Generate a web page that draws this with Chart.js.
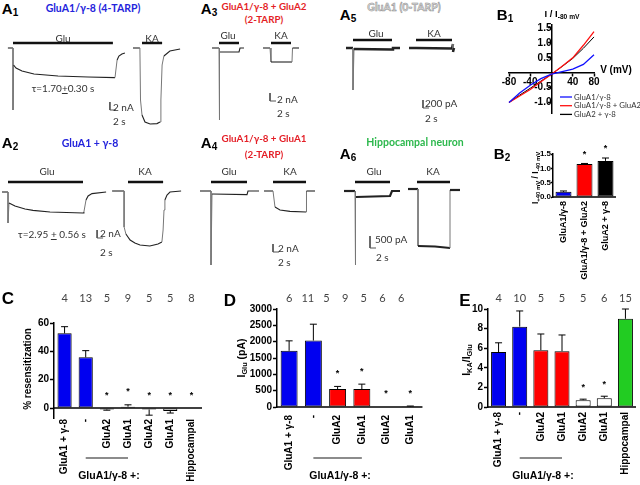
<!DOCTYPE html>
<html>
<head>
<meta charset="utf-8">
<script src="https://cdn.jsdelivr.net/npm/chart.js@4.4.1/dist/chart.umd.min.js"></script>
<style>
body { margin: 0; background: #fff; }
#fig { position: relative; width: 640px; height: 485px; overflow: hidden; font-family: Lato, "Liberation Sans", sans-serif; }
#fig canvas { position: absolute; }
.t { position: absolute; white-space: nowrap; line-height: 1; transform: translate(-50%, -50%); }
.l { position: absolute; white-space: nowrap; line-height: 1; transform: translateY(-50%); }
.pl { font: bold 15px "Liberation Sans", Arial, sans-serif; }
.pl sub { font-size: 10px; vertical-align: -2px; }
.big { font: bold 17px "Liberation Sans", Arial, sans-serif; }
.ti { font-weight: bold; font-size: 10.5px; }
.ts { font-weight: bold; font-size: 9.8px; }
.lb { font-size: 10px; color: #333; }
</style>
</head>
<body>
<div id="fig"></div>
<script>
// ---------- A panels: traces (time in s, current in nA; A5/A6 in pA) ----------
var a1GluT = [-1.7, 0, 0, 0.2, 1, 3, 7, 15, 25, 34, 34.3, 34.7, 35.3, 36.3, 37.3];
var a1GluI = [0, 0, -15.5, -4.25, -5, -5.75, -6.5, -7, -7.25, -7.4, -5.5, -3, -2, -1.5, -1.25];
var a1KaT = [40, 42.3, 42.5, 43, 44, 45.7, 48, 49, 49.3, 49.7, 50.3, 52.3, 55.7];
var a1KaI = [0, 0, -13, -16.75, -18.5, -19, -18.9, -18.5, -13, -4.25, -2, -0.75, -0.25];
var a1Glu = [0, 33.3], a1Ka = [43, 49.7], a1Level = 1.25, a1Scale = [32.3, -13.5];

var a2GluT = [-2, 0, 0, 0.33, 2.33, 5.67, 8.33, 14, 25, 25.3, 26, 26.7, 28, 32.7];
var a2GluI = [0, 0, -7.75, -2.75, -3.5, -4.25, -4.6, -5, -5.25, -5, -2, -1, -0.4, 0];
var a2KaT = [34.7, 38.7, 38.7, 39.3, 40.7, 42.3, 44, 47.3, 50, 51.3, 51.7, 52, 52.3, 53, 54, 57.7];
var a2KaI = [0.25, 0.25, -8.75, -10.5, -12, -12.75, -13.25, -13.5, -13, -12.5, -9.5, -4.5, -2, -0.75, 0, 0.25];
var a2Glu = [0, 25], a2Ka = [40, 51.7], a2Level = 2.5, a2Scale = [29.7, -9.5];

var a3GluT = [-2.33, 0, 0, 0.33, 6.67, 7, 8.33];
var a3GluI = [0, 0, -18, -1, -1, 0, 0];
var a3KaT = [14.67, 17, 17.33, 24.33, 24.5, 26.67];
var a3KaI = [0, 0, -3.5, -3.5, 0, 0];
var a3Glu = [0, 6.67], a3Ka = [17.33, 24], a3Level = 1.25, a3Scale = [17, -11.25];

var a4GluT = [-3.67, 0, 0, 0.33, 12, 12.33, 16];
var a4GluI = [0, 0, -18.5, -0.75, -0.9, 0, 0];
var a4KaT = [17.67, 20.67, 21.33, 23, 26.33, 31.67, 31.83, 34.67];
var a4KaI = [0, 0, -4, -4.75, -5.1, -5.25, 0, 0];
var a4Glu = [0, 12], a4Ka = [20.67, 31.67], a4Level = 2.25, a4Scale = [20.67, -13.25];

var a5GluT = [-2.33, 0, 0, 0.33, 13, 13.33, 15.67];
var a5GluI = [0, 0, -1050, -25, -37, 0, 0];
var a5KaT = [18.67, 21, 33, 33.33, 33.33, 33.67];
var a5KaI = [0, 0, -12, 100, -100, 0];
var a5Glu = [0, 13], a5Ka = [21, 33], a5Level = 200, a5Scale = [23.33, -1300];

var a6GluT = [-3.67, 0, 0, 0.33, 11.67, 12.33, 15];
var a6GluI = [0, 0, -3083, -250, -208, 0, 0];
var a6KaT = [17.67, 21, 21, 26.67, 31.67, 31.67, 35];
var a6KaI = [83, 83, -2292, -2313, -2375, 42, 42];
var a6Glu = [0, 11.67], a6Ka = [20.67, 31.67], a6Level = 375, a6Scale = [5, -1875];

// ---------- B1: normalised I-V ----------
var b1V = [-80, -60, -40, -20, 0, 20, 40, 60, 80];
var b1Blue = [-1.0, -0.68, -0.42, -0.2, -0.05, 0.04, 0.12, 0.28, 0.6];
var b1Red = [-1.0, -0.78, -0.56, -0.3, -0.05, 0.22, 0.5, 0.92, 1.38];
var b1Black = [-1.0, -0.75, -0.52, -0.28, -0.05, 0.21, 0.48, 0.82, 1.2];
var b1Names = ['GluA1/γ-8', 'GluA1/γ-8 + GluA2', 'GluA2 + γ-8'];
var b1XTicks = [-80, -40, 0, 40, 80];
var b1YTicks = [-1.0, -0.5, 0.5, 1.0, 1.5];

// ---------- B2 ----------
var b2Labels = ['GluA1/γ-8', 'GluA1/γ-8 + GluA2', 'GluA2 + γ-8'];
var b2Mean = [0.18, 1.15, 1.26];
var b2Err = [0.03, 0.02, 0.1];
var b2Star = [0, 1, 1];
var b2Ticks = [0, 0.5, 1.0, 1.5];

// ---------- C: % resensitization ----------
var cLabels = ['GluA1 + γ-8', '-', 'GluA2', 'GluA1', 'GluA2', 'GluA1', 'Hippocampal'];
var cMean = [52.7, 35.8, -1, 1, -1, -2, 0];
var cErr = [4.7, 4.7, 0.5, 1.3, 4, 1.5, 0];
var cN = [4, 13, 5, 9, 5, 5, 8];
var cStar = [0, 0, 1, 1, 1, 1, 1];
var cTicks = [0, 20, 40, 60];

// ---------- D: I Glu ----------
var dLabels = ['GluA1 + γ-8', '-', 'GluA2', 'GluA1', 'GluA2', 'GluA1'];
var dMean = [1720, 2035, 550, 550, 0, 20];
var dErr = [305, 500, 80, 150, 0, 10];
var dN = [6, 11, 5, 9, 5, 6, 6];
var dStar = [0, 0, 1, 1, 1, 1];
var dTicks = [0, 500, 1000, 1500, 2000, 2500, 3000];

// ---------- E: I KA / I Glu ----------
var eLabels = ['GluA1 + γ-8', '-', 'GluA2', 'GluA1', 'GluA2', 'GluA1', 'Hippocampal'];
var eMean = [5.6, 8.2, 5.8, 5.7, 0.7, 0.9, 9.0];
var eErr = [0.95, 1.6, 1.65, 1.65, 0.1, 0.2, 1.0];
var eN = [4, 10, 5, 5, 5, 6, 15];
var eStar = [0, 0, 0, 0, 1, 1, 0];
var eTicks = [0, 2, 4, 6, 8, 10];

var BLUE = '#0000f0', RED = '#ff0000', DRED = '#a00000', GREEN = '#22cc22';

var fig = document.getElementById('fig');

function put(html, x, y, cls, css, left) {
  var d = document.createElement('div');
  d.className = (left ? 'l ' : 't ') + cls;
  d.innerHTML = html;
  d.style.left = x + 'px';
  d.style.top = y + 'px';
  if (css) d.style.cssText += css;
  fig.appendChild(d);
}

function addCanvas(box) {
  var cv = document.createElement('canvas');
  cv.width = box[2];
  cv.height = box[3];
  cv.style.left = box[0] + 'px';
  cv.style.top = box[1] + 'px';
  fig.appendChild(cv);
  return cv;
}

function pts(t, i) {
  return t.map(function (x, k) { return { x: x, y: i[k] }; });
}

function line(t, i, color, w) {
  return { data: pts(t, i), showLine: true, borderColor: color, borderWidth: w, pointRadius: 0, clip: false, tension: 0 };
}

// recording trace; the fast vertical jumps are drawn thin and grey
function trace(t, i, w) {
  var d = line(t, i, '#222', w);
  function steep(c) { return Math.abs(c.p1.y - c.p0.y) > 5 && Math.abs(c.p1.x - c.p0.x) < 2.5; }
  d.segment = {
    borderWidth: function (c) { return steep(c) ? 1 : w; },
    borderColor: function (c) { return steep(c) ? '#777' : '#222'; }
  };
  return d;
}

function app(on, level) { return line(on, [level, level], '#111', 2.5); }

function scaleBar(p, dt, di) {
  return line([p[0], p[0], p[0] + dt], [p[1], p[1] - di, p[1] - di], '#555', 1);
}

// one chart per trace panel; box in page px, org = page px of t=0 / baseline
function traceChart(box, org, pxS, pxI, sets) {
  new Chart(addCanvas(box), {
    type: 'scatter',
    data: { datasets: sets },
    options: {
      responsive: false, animation: false, events: [],
      layout: { padding: 0 },
      plugins: { legend: { display: false }, tooltip: { enabled: false } },
      scales: {
        x: { display: false, min: (box[0] - org[0]) / pxS, max: (box[0] + box[2] - org[0]) / pxS },
        y: { display: false, min: (org[1] - box[1] - box[3]) / pxI, max: (org[1] - box[1]) / pxI }
      }
    }
  });
}

// text with subscripts; parts = [[text, isSub], ...], centred on x,y
function rich(ctx, parts, x, y, rot, size) {
  function f(s) { return 'bold ' + s + 'px "Liberation Sans", Arial, sans-serif'; }
  ctx.save();
  ctx.translate(x, y);
  ctx.rotate(rot);
  var w = 0;
  parts.forEach(function (p) { ctx.font = f(p[1] ? size * 0.7 : size); w += ctx.measureText(p[0]).width; });
  var cx = -w / 2;
  ctx.textAlign = 'left';
  ctx.textBaseline = 'middle';
  ctx.fillStyle = '#000';
  parts.forEach(function (p) {
    ctx.font = f(p[1] ? size * 0.7 : size);
    ctx.fillText(p[0], cx, p[1] ? size * 0.32 : 0);
    cx += ctx.measureText(p[0]).width;
  });
  ctx.restore();
}

function extras(cfg, box) {
  return {
    id: 'extras',
    afterDatasetsDraw: function (chart) {
      var ctx = chart.ctx, xs = chart.scales.x, ys = chart.scales.y, a = chart.chartArea;
      var bars = chart.getDatasetMeta(0).data;
      ctx.save();
      ctx.strokeStyle = '#000';
      ctx.fillStyle = '#000';
      var y0 = ys.getPixelForValue(0);
      ctx.lineWidth = 1.5;
      ctx.beginPath(); ctx.moveTo(a.left, y0); ctx.lineTo(a.right, y0); ctx.stroke();
      // error bars
      ctx.lineWidth = 1;
      cfg.mean.forEach(function (m, k) {
        if (!cfg.err[k]) return;
        var s = m < 0 ? -1 : 1, x = bars[k].x;
        var ya = ys.getPixelForValue(m), yb = ys.getPixelForValue(m + s * cfg.err[k]);
        ctx.beginPath();
        ctx.moveTo(x, ya); ctx.lineTo(x, yb);
        ctx.moveTo(x - 3.5, yb); ctx.lineTo(x + 3.5, yb);
        ctx.stroke();
      });
      // asterisks
      ctx.font = 'bold 9px "Liberation Sans", Arial, sans-serif';
      ctx.textAlign = 'center';
      ctx.textBaseline = 'middle';
      cfg.stars.forEach(function (st, k) {
        if (!st) return;
        var m = cfg.mean[k], top = m > 0 ? m + cfg.err[k] : 0;
        ctx.fillText('*', bars[k].x, ys.getPixelForValue(top) - cfg.starOff);
      });
      // n per group
      if (cfg.n) {
        ctx.font = '11px Lato, sans-serif';
        ctx.fillStyle = '#444';
        cfg.n.forEach(function (v, k) {
          ctx.fillText(String(v), xs.getPixelForValue(k * cfg.nStep), 298 - box[1]);
        });
      }
      // GluA1/γ-8 +: bracket
      if (cfg.group) {
        ctx.strokeStyle = '#666';
        ctx.lineWidth = 1.5;
        ctx.beginPath();
        ctx.moveTo(xs.getPixelForValue(1), 458 - box[1]);
        ctx.lineTo(xs.getPixelForValue(3), 458 - box[1]);
        ctx.stroke();
        rich(ctx, [[cfg.group]], xs.getPixelForValue(2.1), 476 - box[1], 0, 10.5);
      }
      rich(ctx, cfg.title, cfg.titleAt[0] - box[0], cfg.titleAt[1] - box[1], -Math.PI / 2, cfg.titleSize);
      ctx.restore();
    }
  };
}

var boldFont = { family: '"Liberation Sans", Arial, sans-serif', weight: 'bold', size: 10 };

function barChart(box, pad, yW, xH, cfg) {
  new Chart(addCanvas(box), {
    type: 'bar',
    data: {
      labels: cfg.labels,
      datasets: [{
        data: cfg.mean, backgroundColor: cfg.colors, borderColor: '#000', borderWidth: 1,
        borderSkipped: false, barPercentage: cfg.bp, categoryPercentage: 1
      }]
    },
    options: {
      responsive: false, animation: false, events: [],
      layout: { padding: pad },
      plugins: { legend: { display: false }, tooltip: { enabled: false } },
      scales: {
        x: {
          grid: { display: false, drawTicks: false }, border: { display: false },
          ticks: {
            autoSkip: false, maxRotation: 90, minRotation: 90, padding: cfg.xPad, color: '#000',
            font: { family: boldFont.family, weight: 'bold', size: cfg.xFont }
          },
          afterFit: function (s) { s.height = xH; }
        },
        y: {
          min: cfg.min, max: cfg.max,
          afterBuildTicks: function (ax) { ax.ticks = cfg.ticks.map(function (v) { return { value: v }; }); },
          afterFit: function (s) { s.width = yW; },
          grid: { drawOnChartArea: false, tickLength: cfg.tickLen || 4, tickColor: '#000', tickWidth: 1.5 },
          border: { color: '#000', width: 1.5 },
          ticks: {
            padding: cfg.tickPad === undefined ? 1 : cfg.tickPad, color: '#000',
            font: { family: boldFont.family, weight: 'bold', size: cfg.yFont || 10 },
            callback: cfg.fmt || function (v) { return v; }
          }
        }
      }
    },
    plugins: [extras(cfg, box)]
  });
}

// ---------- panel A traces ----------
traceChart([0, 28, 200, 110], [13, 48], 3, 4, [
  trace(a1GluT, a1GluI, 1.1), trace(a1KaT, a1KaI, 1.1),
  app(a1Glu, a1Level), app(a1Ka, a1Level), scaleBar(a1Scale, 2, 2)
]);
traceChart([0, 170, 200, 92], [8, 192], 3, 4, [
  trace(a2GluT, a2GluI, 1.1), trace(a2KaT, a2KaI, 1.1),
  app(a2Glu, a2Level), app(a2Ka, a2Level), scaleBar(a2Scale, 2, 2)
]);
traceChart([200, 28, 110, 100], [219, 48], 3, 4, [
  trace(a3GluT, a3GluI, 1.1), trace(a3KaT, a3KaI, 1.1),
  app(a3Glu, a3Level), app(a3Ka, a3Level), scaleBar(a3Scale, 2, 2)
]);
traceChart([196, 170, 124, 100], [211, 191], 3, 4, [
  trace(a4GluT, a4GluI, 1.1), trace(a4KaT, a4KaI, 1.1),
  app(a4Glu, a4Level), app(a4Ka, a4Level), scaleBar(a4Scale, 2, 2)
]);
traceChart([335, 28, 130, 90], [353, 48], 3, 0.04, [
  trace(a5GluT, a5GluI, 2.5), trace(a5KaT, a5KaI, 2.5),
  app(a5Glu, a5Level), app(a5Ka, a5Level), scaleBar(a5Scale, 2, 200)
]);
traceChart([335, 170, 130, 100], [355, 191], 3, 0.024, [
  trace(a6GluT, a6GluI, 2.2), trace(a6KaT, a6KaI, 2.2),
  app(a6Glu, a6Level), app(a6Ka, a6Level), scaleBar(a6Scale, 2, 500)
]);

// ---------- B1 ----------
var b1Box = [495, 0, 145, 125];
new Chart(addCanvas(b1Box), {
  type: 'scatter',
  data: {
    datasets: [
      Object.assign(line(b1V, b1Blue, '#1010ff', 1.3), { label: b1Names[0] }),
      Object.assign(line(b1V, b1Red, '#ff1010', 1.3), { label: b1Names[1] }),
      Object.assign(line(b1V, b1Black, '#000', 1), { label: b1Names[2] })
    ]
  },
  options: {
    responsive: false, animation: false, events: [],
    layout: { padding: { left: 14, right: 46, top: 25, bottom: 12 } },
    plugins: { legend: { display: false }, tooltip: { enabled: false } },
    scales: {
      x: {
        type: 'linear', position: { y: 0 }, min: -80, max: 80,
        afterBuildTicks: function (ax) { ax.ticks = b1XTicks.map(function (v) { return { value: v }; }); },
        grid: { drawOnChartArea: false, tickLength: 3, tickColor: '#000', tickWidth: 1.5 },
        border: { color: '#000', width: 1.5 },
        ticks: { padding: 1, color: '#000', font: boldFont, callback: function (v) { return v === 0 ? '' : v; } }
      },
      y: {
        type: 'linear', position: { x: 0 }, min: -1.35, max: 1.6,
        afterBuildTicks: function (ax) { ax.ticks = b1YTicks.map(function (v) { return { value: v }; }); },
        grid: { drawOnChartArea: false, tickLength: 3, tickColor: '#000', tickWidth: 1.5 },
        border: { color: '#000', width: 1.5 },
        ticks: { padding: 1, color: '#000', font: boldFont, callback: function (v) { return v.toFixed(1); } }
      }
    }
  },
  plugins: [{
    id: 'b1extras',
    afterDatasetsDraw: function (chart) {
      var ctx = chart.ctx, ox = b1Box[0];
      ctx.save();
      rich(ctx, [['I / I'], ['-80 mV', 1]], 562 - ox, 14, 0, 9.5);
      rich(ctx, [['V (mV)']], 616 - ox, 70, 0, 10);
      chart.data.datasets.forEach(function (d, k) {
        var y = 97 + k * 8.7;
        ctx.strokeStyle = d.borderColor;
        ctx.lineWidth = 1.3;
        ctx.beginPath(); ctx.moveTo(560 - ox, y); ctx.lineTo(572 - ox, y); ctx.stroke();
        ctx.fillStyle = '#333';
        ctx.font = '7.8px Lato, sans-serif';
        ctx.textAlign = 'left';
        ctx.textBaseline = 'middle';
        ctx.fillText(d.label, 574 - ox, y);
      });
      ctx.restore();
    }
  }]
});

// ---------- B2 ----------
barChart([500, 125, 140, 170], { left: 0, top: 29, right: 24, bottom: 0 }, 53, 98, {
  labels: b2Labels, mean: b2Mean, err: b2Err, colors: [BLUE, RED, '#000'], stars: b2Star, starOff: 9,
  ticks: b2Ticks, min: 0, max: 1.5, fmt: function (v) { return v.toFixed(1); },
  bp: 0.76, xPad: 4, xFont: 9, yFont: 8, tickLen: 2, tickPad: 0,
  title: [['I'], ['+40 mV', 1], [' / I'], ['-40 mV', 1]], titleAt: [536, 178], titleSize: 8.5
});

// ---------- C ----------
barChart([0, 280, 213, 205], { left: 0, top: 43, right: 11, bottom: 0 }, 54, 67, {
  labels: cLabels, mean: cMean, err: cErr, colors: [BLUE, BLUE, DRED, DRED, '#fff', '#fff', '#fff'],
  stars: cStar, starOff: 13, n: cN, nStep: 1, group: 'GluA1/γ-8 +:',
  ticks: cTicks, min: -7, max: 60, bp: 0.67, xPad: 1, xFont: 10,
  title: [['% resensitization']], titleAt: [28, 369], titleSize: 10
});

// ---------- D ----------
barChart([213, 280, 218, 205], { left: 0, top: 29, right: 8, bottom: 0 }, 64, 78, {
  labels: dLabels, mean: dMean, err: dErr, colors: [BLUE, BLUE, RED, RED, '#fff', '#fff'],
  stars: dStar, starOff: 13, n: dN, nStep: 0.77, group: 'GluA1/γ-8 +:',
  ticks: dTicks, min: 0, max: 3000, bp: 0.7, xPad: 8, xFont: 10,
  title: [['I'], ['Glu', 1], [' (pA)']], titleAt: [242, 358], titleSize: 10.5
});

// ---------- E ----------
barChart([427, 280, 217, 205], { left: 0, top: 29, right: 8, bottom: 0 }, 61, 78, {
  labels: eLabels, mean: eMean, err: eErr, colors: [BLUE, BLUE, RED, RED, '#fff', '#fff', GREEN],
  stars: eStar, starOff: 12, n: eN, nStep: 1, group: 'GluA1/γ-8 +:',
  ticks: eTicks, min: 0, max: 10, bp: 0.71, xPad: 5, xFont: 10,
  title: [['I'], ['KA', 1], ['/I'], ['Glu', 1]], titleAt: [467, 360], titleSize: 10.5
});

// ---------- text ----------
put('A<sub>1</sub>', 10, 9, 'pl');
put('A<sub>2</sub>', 10, 143, 'pl');
put('A<sub>3</sub>', 209, 9, 'pl');
put('A<sub>4</sub>', 209, 143, 'pl');
put('A<sub>5</sub>', 348, 15, 'pl');
put('A<sub>6</sub>', 348, 154, 'pl');
put('B<sub>1</sub>', 505, 15, 'pl');
put('B<sub>2</sub>', 502, 154, 'pl');
put('C', 8, 299, 'big');
put('D', 230, 301, 'big');
put('E', 465, 301, 'big');

put('GluA1/γ-8 (4-TARP)', 93, 8, 'ti', 'color:#2424dc');
put('GluA1 + γ-8', 90, 143, 'ti', 'color:#2424dc');
put('GluA1/γ-8 + GluA2', 264, 7, 'ts', 'color:#e41e26');
put('(2-TARP)', 264, 20, 'ts', 'color:#e41e26');
put('GluA1/γ-8 + GluA1', 264, 139, 'ts', 'color:#e41e26');
put('(2-TARP)', 264, 155, 'ts', 'color:#e41e26');
put('GluA1 (0-TARP)', 404, 7, 'ti', 'color:#dcdcdc;-webkit-text-stroke:0.5px #8c8c8c');
put('Hippocampal neuron', 415, 142, 'ti', 'color:#2db84d');

put('Glu', 63, 38, 'lb'); put('KA', 152, 38, 'lb');
put('Glu', 47, 171, 'lb'); put('KA', 145, 171, 'lb');
put('Glu', 228, 35, 'lb'); put('KA', 281, 35, 'lb');
put('Glu', 229, 171, 'lb'); put('KA', 290, 171, 'lb');
put('Glu', 376, 33, 'lb'); put('KA', 434, 33, 'lb');
put('Glu', 374, 171, 'lb'); put('KA', 433, 171, 'lb');

put('τ=1.70<u>+</u>0.30 s', 63, 88, 'lb');
put('τ=2.95 <u>+</u> 0.56 s', 52, 234, 'lb');

put('2 nA', 113, 107, 'lb', '', true); put('2 s', 113, 121, 'lb', '', true);
put('2 nA', 100, 233, 'lb', '', true); put('2 s', 100, 252, 'lb', '', true);
put('2 nA', 277, 99, 'lb', '', true); put('2 s', 277, 113, 'lb', '', true);
put('2 nA', 278, 248, 'lb', '', true); put('2 s', 278, 262, 'lb', '', true);
put('200 pA', 425, 103, 'lb', '', true); put('2 s', 425, 118, 'lb', '', true);
put('500 pA', 375, 239, 'lb', '', true); put('2 s', 376, 257, 'lb', '', true);
</script>
</body>
</html>
